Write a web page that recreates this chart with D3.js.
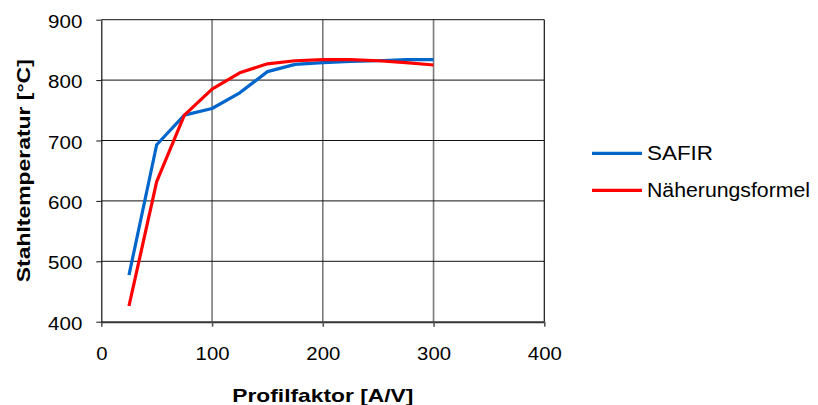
<!DOCTYPE html>
<html>
<head>
<meta charset="utf-8">
<script src="https://cdn.jsdelivr.net/npm/d3@7"></script>
<style>
  html, body { margin: 0; padding: 0; background: #fff; }
  svg { display: block; font-family: "Liberation Sans", Arial, sans-serif; }
</style>
</head>
<body>
<svg id="chart" width="818" height="405"></svg>
<script>
// Profilfaktor A/V [1/m]
const profilfaktor = [25, 50, 75, 100, 125, 150, 175, 200, 225, 250, 275, 300];
// Stahltemperatur [°C]
const safir = [477, 693, 742, 753, 779, 814, 826, 829, 831, 832, 834, 834];
const naeherung = [426, 632, 742, 785, 812, 827, 832, 834, 834, 832, 829, 825];

const xTicks = [0, 100, 200, 300, 400];
const yTicks = [400, 500, 600, 700, 800, 900];

const seriesNames = ["SAFIR", "Näherungsformel"];
const seriesColors = ["#0066CC", "#FF0000"];

const svg = d3.select("#chart");

const x = d3.scaleLinear().domain([0, 400]).range([101.3, 544.3]);
const y = d3.scaleLinear().domain([400, 900]).range([321.7, 19.7]);

// vertical grid lines (grey)
svg.append("g")
  .selectAll("line")
  .data(xTicks.slice(1, -1))
  .join("line")
  .attr("x1", d => x(d)).attr("x2", d => x(d))
  .attr("y1", y(900)).attr("y2", y(400))
  .attr("stroke", "#7a7a7a").attr("stroke-width", 1.6);

// horizontal grid lines (black)
svg.append("g")
  .selectAll("line")
  .data(yTicks.slice(1))
  .join("line")
  .attr("x1", x(0)).attr("x2", x(400))
  .attr("y1", d => y(d)).attr("y2", d => y(d))
  .attr("stroke", "#111").attr("stroke-width", 1);

// right border
svg.append("line")
  .attr("x1", x(400)).attr("x2", x(400))
  .attr("y1", y(900)).attr("y2", y(400))
  .attr("stroke", "#111").attr("stroke-width", 1.2);

// x axis
const xAxis = svg.append("g")
  .attr("transform", `translate(0,${y(400)})`)
  .call(d3.axisBottom(x).tickValues(xTicks).tickSize(5).tickSizeOuter(0).tickPadding(20));
xAxis.select(".domain").attr("stroke", "#333").attr("stroke-width", 2);
xAxis.selectAll(".tick line").attr("stroke", "#555").attr("stroke-width", 1.6);
xAxis.selectAll(".tick text")
  .attr("font-size", 18).attr("fill", "#000")
  .attr("dy", 0).attr("y", 38)
  .attr("textLength", d => String(d).length * 11.3)
  .attr("lengthAdjust", "spacingAndGlyphs");

// y axis
const yAxis = svg.append("g")
  .attr("transform", `translate(${x(0)},0)`)
  .call(d3.axisLeft(y).tickValues(yTicks).tickSize(5).tickSizeOuter(0).tickPadding(14));
yAxis.select(".domain").attr("stroke", "#111").attr("stroke-width", 1.2);
yAxis.selectAll(".tick line").attr("stroke", "#111").attr("stroke-width", 1);
yAxis.selectAll(".tick text")
  .attr("font-size", 18).attr("fill", "#000")
  .attr("dy", 0).attr("y", 7.5)
  .attr("textLength", d => String(d).length * 11.4)
  .attr("lengthAdjust", "spacingAndGlyphs");

// series lines
const line = d3.line().x(d => x(d[0])).y(d => y(d[1]));
[safir, naeherung].forEach((vals, i) => {
  svg.append("path")
    .datum(profilfaktor.map((p, j) => [p, vals[j]]))
    .attr("fill", "none")
    .attr("stroke", seriesColors[i])
    .attr("stroke-width", 3.2)
    .attr("stroke-linejoin", "round")
    .attr("d", line);
});

// axis titles
svg.append("text")
  .attr("x", (x(0) + x(400)) / 2).attr("y", 402)
  .attr("text-anchor", "middle")
  .attr("font-size", 18.5).attr("font-weight", "bold")
  .attr("textLength", 181).attr("lengthAdjust", "spacingAndGlyphs")
  .text("Profilfaktor [A/V]");

svg.append("text")
  .attr("transform", `translate(30,${(y(400) + y(900)) / 2}) rotate(-90)`)
  .attr("text-anchor", "middle")
  .attr("font-size", 18.5).attr("font-weight", "bold")
  .attr("textLength", 223).attr("lengthAdjust", "spacingAndGlyphs")
  .text("Stahltemperatur [°C]");

// legend
const legend = svg.append("g");
seriesNames.forEach((name, i) => {
  const ly = 153.3 + i * 37;
  legend.append("line")
    .attr("x1", 592).attr("x2", 642)
    .attr("y1", ly).attr("y2", ly)
    .attr("stroke", seriesColors[i]).attr("stroke-width", 3.2);
  legend.append("text")
    .attr("x", 647).attr("y", ly + 7)
    .attr("font-size", 19.5).attr("fill", "#000")
    .attr("textLength", i === 0 ? 66 : 163).attr("lengthAdjust", "spacingAndGlyphs")
    .text(name);
});
</script>
</body>
</html>
